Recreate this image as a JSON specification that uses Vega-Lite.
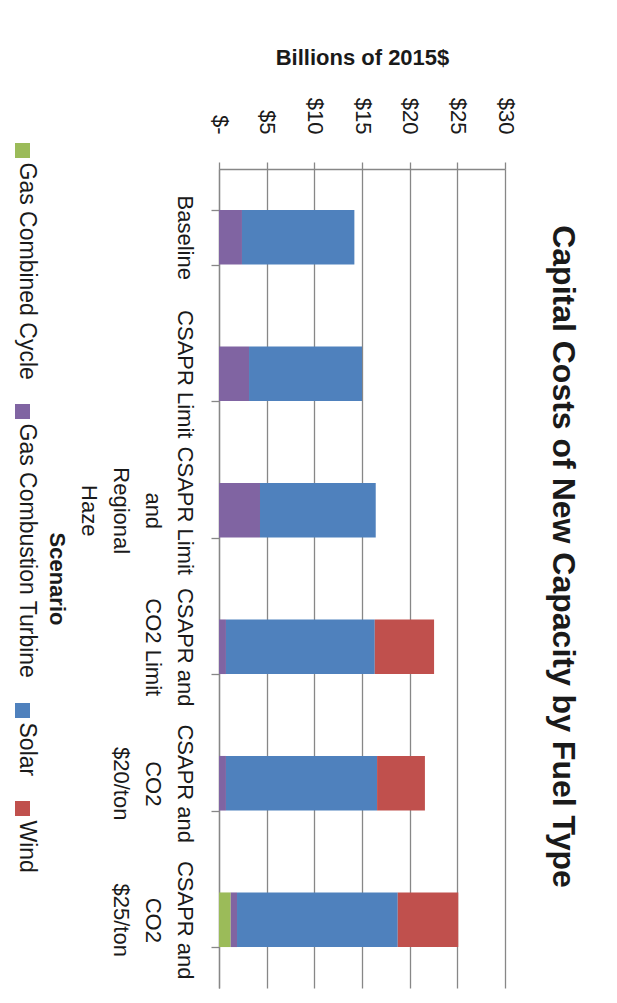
{
  "$schema": "https://vega.github.io/schema/vega-lite/v6.json",
  "width": 286,
  "height": 819,
  "padding": {"left": 11, "top": 46, "right": 5, "bottom": 5},
  "background": "white",
  "title": {
    "text": "Capital Costs of New Capacity by Fuel Type",
    "orient": "right",
    "anchor": "middle",
    "font": "Liberation Sans",
    "fontSize": 32,
    "fontWeight": "bold",
    "color": "#1a1a1a",
    "offset": 30,
    "dx": -22
  },
  "data": {
    "values": [
      {"scenario": "Baseline", "fuel": "Gas Combustion Turbine", "cost": 2.41},
      {"scenario": "Baseline", "fuel": "Solar", "cost": 11.79},
      {"scenario": "CSAPR Limit", "fuel": "Gas Combustion Turbine", "cost": 3.15},
      {"scenario": "CSAPR Limit", "fuel": "Solar", "cost": 11.85},
      {"scenario": "CSAPR Limit and Regional Haze", "fuel": "Gas Combustion Turbine", "cost": 4.3},
      {"scenario": "CSAPR Limit and Regional Haze", "fuel": "Solar", "cost": 12.14},
      {"scenario": "CSAPR and CO2 Limit", "fuel": "Gas Combustion Turbine", "cost": 0.73},
      {"scenario": "CSAPR and CO2 Limit", "fuel": "Solar", "cost": 15.61},
      {"scenario": "CSAPR and CO2 Limit", "fuel": "Wind", "cost": 6.22},
      {"scenario": "CSAPR and CO2 $20/ton", "fuel": "Gas Combustion Turbine", "cost": 0.73},
      {"scenario": "CSAPR and CO2 $20/ton", "fuel": "Solar", "cost": 15.85},
      {"scenario": "CSAPR and CO2 $20/ton", "fuel": "Wind", "cost": 5.02},
      {"scenario": "CSAPR and CO2 $25/ton", "fuel": "Gas Combined Cycle", "cost": 1.23},
      {"scenario": "CSAPR and CO2 $25/ton", "fuel": "Gas Combustion Turbine", "cost": 0.66},
      {"scenario": "CSAPR and CO2 $25/ton", "fuel": "Solar", "cost": 16.86},
      {"scenario": "CSAPR and CO2 $25/ton", "fuel": "Wind", "cost": 6.35}
    ]
  },
  "mark": {"type": "bar"},
  "encoding": {
    "y": {
      "field": "scenario",
      "type": "nominal",
      "sort": null,
      "scale": {"paddingInner": 0.6, "paddingOuter": 0.3},
      "axis": {
        "title": "Scenario",
        "orient": "left",
        "labelExpr": "datum.value === 'CSAPR Limit and Regional Haze' ? ['CSAPR Limit','and','Regional','Haze'] : datum.value === 'CSAPR and CO2 Limit' ? ['CSAPR and','CO2 Limit'] : datum.value === 'CSAPR and CO2 $20/ton' ? ['CSAPR and','CO2','$20/ton'] : datum.value === 'CSAPR and CO2 $25/ton' ? ['CSAPR and','CO2','$25/ton'] : datum.value",
        "labelAngle": 90,
        "labelAlign": "center",
        "labelBaseline": "top",
        "labelPadding": 17,
        "labelOffset": -12,
        "labelFont": "Liberation Sans",
        "labelFontSize": 22,
        "labelLineHeight": 32,
        "labelColor": "#1a1a1a",
        "labelOverlap": false,
        "labelLimit": 300,
        "tickBand": "extent",
        "tickSize": 8,
        "tickColor": "#878787",
        "tickWidth": 1.3,
        "domainColor": "#878787",
        "domainWidth": 1.3,
        "titleAngle": 90,
        "titleBaseline": "top",
        "titleFont": "Liberation Sans",
        "titleFontSize": 22,
        "titleFontWeight": "bold",
        "titleColor": "#1a1a1a",
        "titlePadding": 11
      }
    },
    "x": {
      "field": "cost",
      "type": "quantitative",
      "stack": "zero",
      "scale": {"domain": [0, 30], "nice": false},
      "axis": {
        "orient": "top",
        "title": "Billions of 2015$",
        "values": [0, 5, 10, 15, 20, 25, 30],
        "labelExpr": "datum.value === 0 ? '$-' : '$' + datum.value",
        "labelAngle": 90,
        "labelAlign": "right",
        "labelBaseline": "middle",
        "labelPadding": 40,
        "labelFont": "Liberation Sans",
        "labelFontSize": 22,
        "labelColor": "#1a1a1a",
        "tickSize": 7,
        "tickColor": "#878787",
        "tickWidth": 1.3,
        "grid": true,
        "gridColor": "#878787",
        "gridWidth": 1.3,
        "domainColor": "#878787",
        "domainWidth": 1.3,
        "titleAngle": 0,
        "titleFont": "Liberation Sans",
        "titleFontSize": 22,
        "titleFontWeight": "bold",
        "titleColor": "#1a1a1a",
        "titlePadding": 28
      }
    },
    "color": {
      "field": "fuel",
      "type": "nominal",
      "scale": {
        "domain": ["Gas Combined Cycle", "Gas Combustion Turbine", "Solar", "Wind"],
        "range": ["#9BBB59", "#8064A2", "#4F81BD", "#C0504D"]
      },
      "legend": {
        "orient": "none",
        "legendX": -208,
        "legendY": -30,
        "title": null,
        "direction": "vertical",
        "symbolType": "square",
        "symbolSize": 225,
        "symbolStrokeWidth": 0,
        "labelFont": "Liberation Sans",
        "labelFontSize": 23,
        "labelColor": "#1a1a1a",
        "labelLimit": 400,
        "labelOffset": -7.5,
        "labelAlign": "left",
        "labelBaseline": "middle",
        "rowPadding": 20
      }
    },
    "order": {"field": "fuel", "sort": "ascending"}
  },
  "config": {
    "view": {"stroke": null},
    "style": {"guide-label": {"angle": 90, "dx": 12}}
  }
}
